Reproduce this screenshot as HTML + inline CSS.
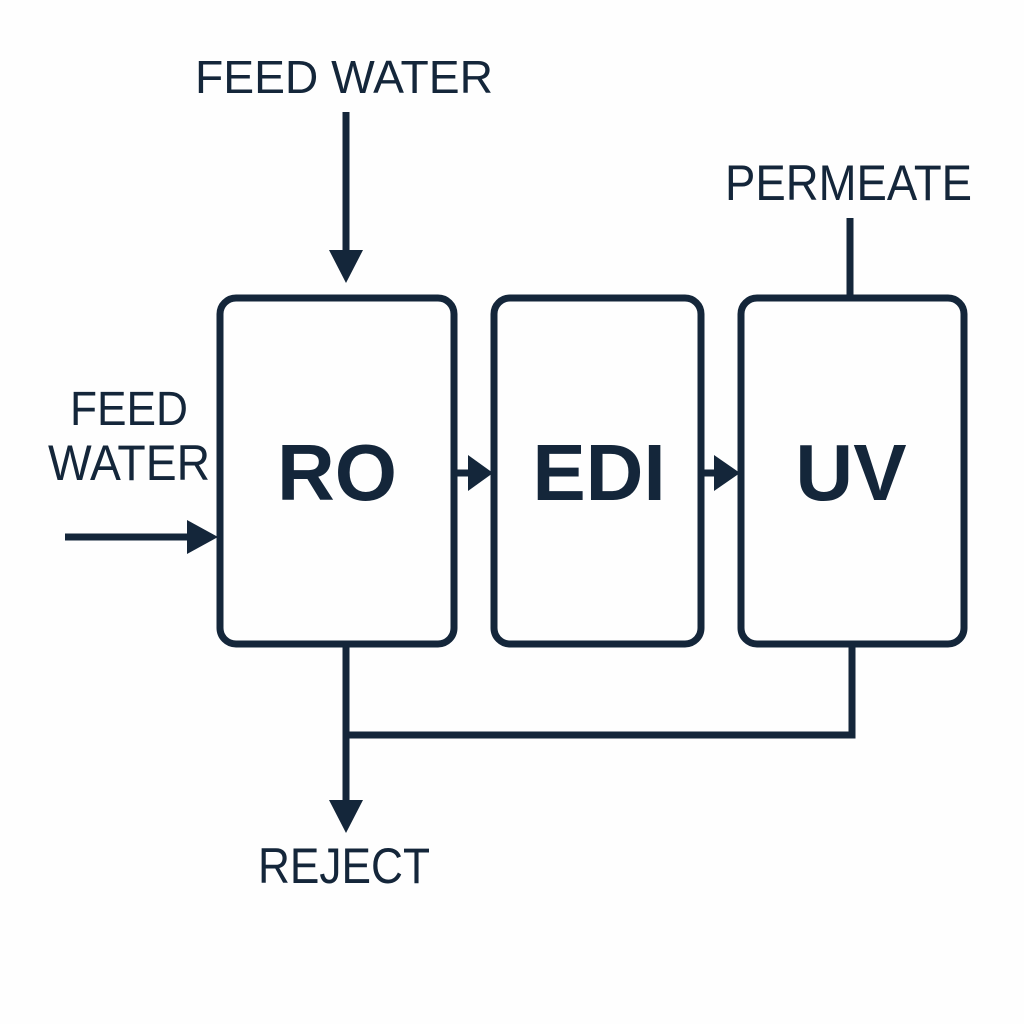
<!DOCTYPE html>
<html><head><style>html,body{margin:0;padding:0;background:#fff}</style></head><body>
<svg width="1024" height="1024" viewBox="0 0 1024 1024" xmlns="http://www.w3.org/2000/svg">
<rect width="1024" height="1024" fill="#fefefe"/>
<g fill="none" stroke="#14263a" stroke-width="7">
<rect x="220" y="298" width="234" height="346" rx="16"/>
<rect x="494" y="298" width="207" height="346" rx="16"/>
<rect x="741" y="298" width="223" height="346" rx="16"/>
<line x1="346" y1="112" x2="346" y2="255"/>
<line x1="65" y1="537" x2="190" y2="537"/>
<line x1="455" y1="473" x2="470" y2="473"/>
<line x1="701" y1="473" x2="716" y2="473"/>
<line x1="850" y1="218" x2="850" y2="298"/>
<line x1="346" y1="644" x2="346" y2="805"/>
<polyline points="346,735 852,735 852,644"/>
</g>
<g fill="#14263a">
<polygon points="329,250 363,250 346,283"/>
<polygon points="187,520 187,554 218,537"/>
<polygon points="468,455 468,491 493,473"/>
<polygon points="714,455 714,491 740,473"/>
<polygon points="329,800 363,800 346,833"/>
</g>
<g fill="#14263a" font-family="Liberation Sans, sans-serif">
<text x="195" y="93" font-size="46" textLength="298" lengthAdjust="spacingAndGlyphs">FEED WATER</text>
<text x="725" y="200" font-size="50" textLength="247" lengthAdjust="spacingAndGlyphs">PERMEATE</text>
<text x="70" y="425" font-size="48" textLength="118" lengthAdjust="spacingAndGlyphs">FEED</text>
<text x="48" y="480" font-size="50" textLength="162" lengthAdjust="spacingAndGlyphs">WATER</text>
<text x="258" y="883" font-size="50" textLength="172" lengthAdjust="spacingAndGlyphs">REJECT</text>
<g font-weight="bold" font-size="80">
<text x="337" y="500" text-anchor="middle">RO</text>
<text x="599" y="500" text-anchor="middle">EDI</text>
<text x="851" y="500" text-anchor="middle">UV</text>
</g>
</g>
</svg>
</body></html>
